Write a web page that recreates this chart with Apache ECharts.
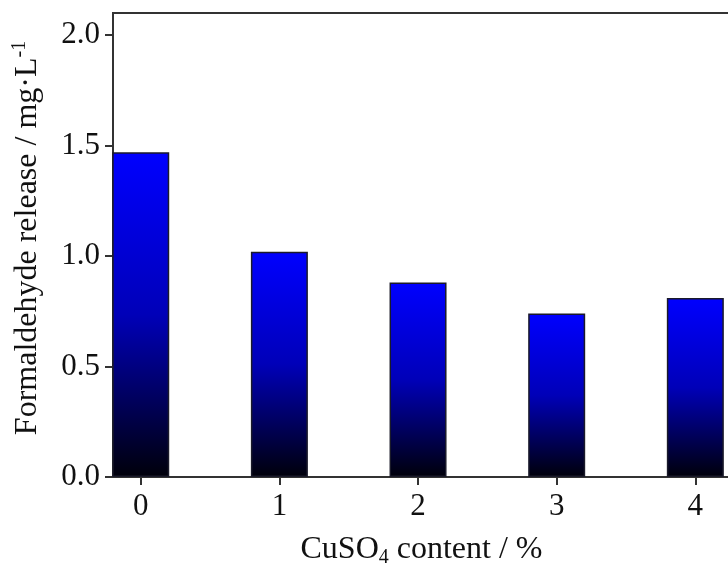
<!DOCTYPE html>
<html>
<head>
<meta charset="utf-8">
<script src="https://cdn.jsdelivr.net/npm/echarts@6/dist/echarts.min.js"></script>
<style>
  html, body { margin: 0; padding: 0; background: #fff; }
  #chart { width: 728px; height: 566px; }
</style>
</head>
<body>
<div id="chart"></div>
<script>
// CuSO4 dosage (%) and measured formaldehyde release (mg/L)
const contents = [0, 1, 2, 3, 4];
const release = [1.47, 1.02, 0.88, 0.74, 0.81];
const yTicks = [0, 0.5, 1.0, 1.5, 2.0];

const serif = "'Liberation Serif', 'Times New Roman', serif";
const axisColor = '#333';

const chart = echarts.init(document.getElementById('chart'));

chart.setOption({
  backgroundColor: '#fff',
  animation: false,
  grid: {
    left: 113, top: 13, bottom: 89, width: 617,
    outerBoundsMode: 'none',
    containLabel: false,
    show: true, borderColor: axisColor, borderWidth: 2, backgroundColor: 'transparent'
  },
  xAxis: {
    type: 'value',
    min: -0.2,
    max: 4.25,
    splitLine: { show: false },
    axisLine: { show: true, onZero: false, lineStyle: { color: axisColor, width: 2 } },
    axisTick: { show: true, customValues: contents, length: 8, lineStyle: { color: axisColor, width: 2 } },
    axisLabel: {
      customValues: contents,
      color: '#111', fontFamily: serif, fontSize: 31, margin: 14,
      formatter: v => String(v)
    },
    name: '{t|CuSO}{s|4}{t| content / %}',
    nameLocation: 'middle',
    nameGap: 55,
    nameTextStyle: {
      rich: {
        t: { fontFamily: serif, fontSize: 32, color: '#111' },
        s: { fontFamily: serif, fontSize: 20, color: '#111', padding: [16, 0, 0, 0] }
      }
    }
  },
  yAxis: {
    type: 'value',
    min: 0,
    max: 2.1,
    splitLine: { show: false },
    axisLine: { show: true, onZero: false, lineStyle: { color: axisColor, width: 2 } },
    axisTick: { show: true, customValues: yTicks, length: 8, lineStyle: { color: axisColor, width: 2 } },
    axisLabel: {
      customValues: yTicks,
      color: '#111', fontFamily: serif, fontSize: 31, margin: 13,
      formatter: v => v.toFixed(1)
    },
    name: '{t|Formaldehyde release / mg·L}{p|-1}',
    nameLocation: 'middle',
    nameGap: 67,
    nameTextStyle: {
      padding: [0, 0, 0, 14],
      rich: {
        t: { fontFamily: serif, fontSize: 32, color: '#111' },
        p: { fontFamily: serif, fontSize: 20, color: '#111', padding: [0, 0, 16, 0] }
      }
    }
  },
  series: [{
    type: 'bar',
    barWidth: 57,
    data: contents.map((c, i) => [c, release[i]]),
    itemStyle: {
      borderColor: '#1a1a2a',
      borderWidth: 1.5,
      color: new echarts.graphic.LinearGradient(0, 0, 0, 1, [
        { offset: 0, color: '#0000ff' },
        { offset: 0.5, color: '#0000b8' },
        { offset: 1, color: '#00000a' }
      ])
    }
  }]
});
</script>
</body>
</html>
